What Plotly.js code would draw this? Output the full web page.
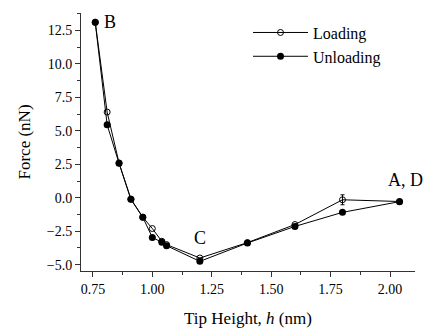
<!DOCTYPE html>
<html>
<head>
<meta charset="utf-8">
<script src="https://cdn.plot.ly/plotly-3.0.1.min.js"></script>
<style>html,body{margin:0;padding:0;background:#fff;}#chart{width:427px;height:331px;}</style>
</head>
<body>
<div id="chart"></div>
<script>
var loadingH = [0.76, 0.81, 0.86, 0.91, 0.96, 1.00, 1.04, 1.06, 1.20, 1.40, 1.60, 1.80, 2.04];
var loadingF = [13.1, 6.4, 2.6, -0.1, -1.45, -2.3, -3.25, -3.5, -4.5, -3.35, -2.0, -0.15, -0.28];
var loadingErr = [NaN, NaN, NaN, NaN, NaN, NaN, NaN, NaN, NaN, NaN, NaN, 0.37, NaN];

var unloadingH = [0.76, 0.81, 0.86, 0.91, 0.96, 1.00, 1.04, 1.06, 1.20, 1.40, 1.60, 1.80, 2.04];
var unloadingF = [13.1, 5.45, 2.57, -0.12, -1.46, -2.96, -3.33, -3.58, -4.75, -3.38, -2.14, -1.09, -0.29];

var labels = [
  {text: 'B', x: 0.82, y: 13.1},
  {text: 'C', x: 1.20, y: -3.0},
  {text: 'A, D', x: 2.066, y: 1.35}
];

var fontFam = '"Liberation Serif", "Times New Roman", serif';

var traces = [
  {
    name: 'Loading', x: loadingH, y: loadingF, mode: 'lines+markers', type: 'scatter',
    line: {color: '#000', width: 1},
    marker: {symbol: 'circle-open', size: 6, color: '#000', line: {width: 1, color: '#000'}},
    error_y: {type: 'data', array: loadingErr, visible: true, color: '#000', thickness: 1, width: 2}
  },
  {
    name: 'Unloading', x: unloadingH, y: unloadingF, mode: 'lines+markers', type: 'scatter',
    line: {color: '#000', width: 1},
    marker: {symbol: 'circle', size: 7, color: '#000'}
  }
];

var layout = {
  width: 427, height: 331,
  margin: {l: 81, r: 12, t: 13, b: 60},
  paper_bgcolor: '#fff', plot_bgcolor: '#fff',
  font: {family: fontFam, color: '#000', size: 14},
  showlegend: true,
  legend: {
    x: 0.5, y: 0.99, xanchor: 'left', yanchor: 'top',
    bgcolor: 'rgba(0,0,0,0)', font: {family: fontFam, size: 16, color: '#000'},
    itemwidth: 55, tracegroupgap: 0
  },
  xaxis: {
    range: [0.70, 2.105], dtick: 0.25, tick0: 0, tickformat: '.2f',
    showgrid: false, zeroline: false, showline: true, linecolor: '#333', linewidth: 1,
    ticks: 'outside', ticklen: 5, tickwidth: 1, tickcolor: '#333',
    minor: {dtick: 0.125, ticks: 'outside', ticklen: 3, tickwidth: 1, tickcolor: '#333', showgrid: false},
    tickfont: {family: fontFam, size: 14, color: '#000'},
    title: {text: 'Tip Height, <i>h</i> (nm)', font: {family: fontFam, size: 17, color: '#000'}, standoff: 16}
  },
  yaxis: {
    range: [-5.47, 13.8], dtick: 2.5, tick0: 0, tickformat: '.1f',
    showgrid: false, zeroline: false, showline: true, linecolor: '#333', linewidth: 1,
    ticks: 'outside', ticklen: 5, tickwidth: 1, tickcolor: '#333',
    minor: {dtick: 1.25, ticks: 'outside', ticklen: 3, tickwidth: 1, tickcolor: '#333', showgrid: false},
    tickfont: {family: fontFam, size: 14, color: '#000'},
    title: {text: 'Force (nN)', font: {family: fontFam, size: 17, color: '#000'}, standoff: 11}
  },
  annotations: labels.map(function(l) {
    return {text: l.text, x: l.x, y: l.y, xref: 'x', yref: 'y', showarrow: false,
            font: {family: fontFam, size: 18, color: '#000'}};
  })
};

Plotly.newPlot('chart', traces, layout, {displayModeBar: false, staticPlot: true});
</script>
</body>
</html>
